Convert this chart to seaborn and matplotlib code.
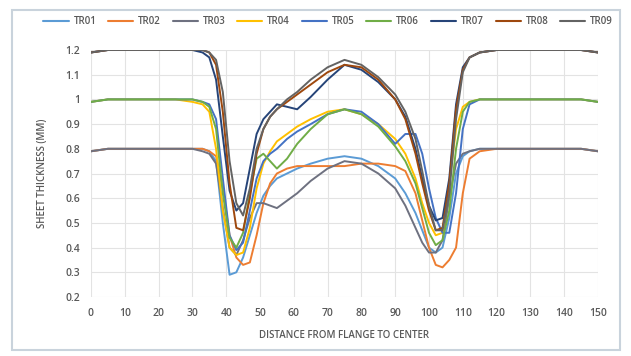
import numpy as np
import pandas as pd
import seaborn as sns
import matplotlib.pyplot as plt
from matplotlib.patches import Rectangle

# Measurement positions along the section (mm from flange)
distance = [0, 5, 10, 15, 20, 25, 30, 33, 35, 37, 39, 41, 43, 45, 47, 49, 51, 53, 55,
            58, 61, 65, 70, 75, 80, 85, 90, 93, 96, 98, 100, 102, 104, 106, 108, 110,
            112, 115, 120, 125, 130, 135, 140, 145, 150]

# Sheet thickness (mm) for each trial
tr01 = [0.79, 0.80, 0.80, 0.80, 0.80, 0.80, 0.80, 0.80, 0.79, 0.75, 0.50, 0.29, 0.30, 0.36,
        0.45, 0.54, 0.61, 0.65, 0.68, 0.70, 0.72, 0.74, 0.76, 0.77, 0.76, 0.73, 0.68, 0.62,
        0.54, 0.47, 0.40, 0.38, 0.40, 0.52, 0.70, 0.77, 0.79, 0.80, 0.80, 0.80, 0.80, 0.80,
        0.80, 0.80, 0.79]
tr02 = [0.79, 0.80, 0.80, 0.80, 0.80, 0.80, 0.80, 0.80, 0.79, 0.77, 0.64, 0.45, 0.36, 0.33,
        0.34, 0.45, 0.58, 0.66, 0.70, 0.72, 0.73, 0.73, 0.73, 0.73, 0.74, 0.74, 0.73, 0.71,
        0.62, 0.51, 0.40, 0.33, 0.32, 0.35, 0.40, 0.62, 0.76, 0.79, 0.80, 0.80, 0.80, 0.80,
        0.80, 0.80, 0.79]
tr03 = [0.79, 0.80, 0.80, 0.80, 0.80, 0.80, 0.80, 0.79, 0.78, 0.74, 0.56, 0.40, 0.37, 0.43,
        0.52, 0.58, 0.58, 0.57, 0.56, 0.59, 0.62, 0.67, 0.72, 0.75, 0.74, 0.70, 0.64, 0.57,
        0.48, 0.42, 0.38, 0.38, 0.43, 0.60, 0.74, 0.78, 0.79, 0.80, 0.80, 0.80, 0.80, 0.80,
        0.80, 0.80, 0.79]
tr04 = [0.99, 1.00, 1.00, 1.00, 1.00, 1.00, 0.99, 0.98, 0.95, 0.80, 0.55, 0.40, 0.37, 0.38,
        0.48, 0.64, 0.74, 0.79, 0.83, 0.86, 0.89, 0.92, 0.95, 0.96, 0.94, 0.90, 0.84, 0.78,
        0.68, 0.58, 0.50, 0.45, 0.46, 0.66, 0.88, 0.97, 0.99, 1.00, 1.00, 1.00, 1.00, 1.00,
        1.00, 1.00, 0.99]
tr05 = [0.99, 1.00, 1.00, 1.00, 1.00, 1.00, 1.00, 0.99, 0.98, 0.92, 0.68, 0.45, 0.39, 0.42,
        0.55, 0.68, 0.75, 0.78, 0.80, 0.84, 0.87, 0.90, 0.94, 0.96, 0.95, 0.90, 0.82, 0.86,
        0.86, 0.78, 0.64, 0.52, 0.46, 0.46, 0.62, 0.88, 0.98, 1.00, 1.00, 1.00, 1.00, 1.00,
        1.00, 1.00, 0.99]
tr06 = [0.99, 1.00, 1.00, 1.00, 1.00, 1.00, 1.00, 0.99, 0.97, 0.88, 0.62, 0.44, 0.40, 0.46,
        0.62, 0.76, 0.78, 0.75, 0.72, 0.76, 0.82, 0.88, 0.94, 0.96, 0.94, 0.89, 0.81, 0.75,
        0.66, 0.56, 0.46, 0.41, 0.43, 0.55, 0.80, 0.95, 0.99, 1.00, 1.00, 1.00, 1.00, 1.00,
        1.00, 1.00, 0.99]
tr07 = [1.19, 1.20, 1.20, 1.20, 1.20, 1.20, 1.20, 1.19, 1.17, 1.08, 0.85, 0.63, 0.55, 0.58,
        0.72, 0.86, 0.92, 0.95, 0.98, 0.97, 0.96, 1.01, 1.08, 1.14, 1.12, 1.07, 1.00, 0.93,
        0.80, 0.68, 0.57, 0.51, 0.52, 0.68, 0.98, 1.13, 1.17, 1.19, 1.20, 1.20, 1.20, 1.20,
        1.20, 1.20, 1.19]
tr08 = [1.19, 1.20, 1.20, 1.20, 1.20, 1.20, 1.20, 1.20, 1.19, 1.14, 0.95, 0.66, 0.48, 0.47,
        0.60, 0.78, 0.88, 0.93, 0.96, 0.99, 1.02, 1.06, 1.11, 1.14, 1.13, 1.08, 1.00, 0.92,
        0.78, 0.66, 0.55, 0.47, 0.48, 0.66, 0.96, 1.12, 1.17, 1.19, 1.20, 1.20, 1.20, 1.20,
        1.20, 1.20, 1.19]
tr09 = [1.19, 1.20, 1.20, 1.20, 1.20, 1.20, 1.20, 1.20, 1.19, 1.16, 1.03, 0.75, 0.58, 0.53,
        0.64, 0.80, 0.88, 0.93, 0.96, 1.00, 1.03, 1.08, 1.13, 1.16, 1.14, 1.09, 1.02, 0.95,
        0.84, 0.71, 0.57, 0.47, 0.47, 0.62, 0.92, 1.11, 1.17, 1.19, 1.20, 1.20, 1.20, 1.20,
        1.20, 1.20, 1.19]

series_names = ["TR01", "TR02", "TR03", "TR04", "TR05", "TR06", "TR07", "TR08", "TR09"]
series_values = [tr01, tr02, tr03, tr04, tr05, tr06, tr07, tr08, tr09]
series_colors = ["#5B9BD5", "#ED7D31", "#6E7180", "#FFC000", "#4472C4", "#70AD47",
                 "#264478", "#9E480E", "#636363"]

x_ticks = list(range(0, 151, 10))
y_ticks = [0.2, 0.3, 0.4, 0.5, 0.6, 0.7, 0.8, 0.9, 1.0, 1.1, 1.2]
y_tick_labels = ["0.2", "0.3", "0.4", "0.5", "0.6", "0.7", "0.8", "0.9", "1", "1.1", "1.2"]

frames = [pd.DataFrame({"distance": distance, "thickness": vals, "trial": name})
          for name, vals in zip(series_names, series_values)]
df = pd.concat(frames, ignore_index=True)

sns.set_theme(style="white")
plt.rcParams["font.family"] = ["Open Sans", "DejaVu Sans"]

fig = plt.figure(figsize=(6.31, 3.56), dpi=100)
fig.patch.set_facecolor("white")

# Chart frame
fig.patches.append(Rectangle((12 / 631, 1 - 350 / 356), 608 / 631, 340 / 356,
                             transform=fig.transFigure, fill=False,
                             edgecolor="#C9D3DC", linewidth=1.5))

ax = fig.add_axes([91 / 631, 1 - 297 / 356, 507 / 631, 247 / 356])
sns.lineplot(data=df, x="distance", y="thickness", hue="trial",
             palette=dict(zip(series_names, series_colors)),
             linewidth=1.4, ax=ax, legend=False)
for line in ax.get_lines():
    line.set_solid_joinstyle("round")

ax.set_xlim(0, 150)
ax.set_ylim(0.2, 1.2)
ax.set_xticks(x_ticks)
ax.set_xticklabels([str(t) for t in x_ticks])
ax.set_yticks(y_ticks)
ax.set_yticklabels(y_tick_labels)
ax.grid(True, color="#E3E3E3", linewidth=0.8)
ax.set_axisbelow(True)
for s in ax.spines.values():
    s.set_visible(False)
ax.tick_params(axis="both", length=0, labelsize=7.5, labelcolor="#595959", pad=8)
for lbl in ax.get_xticklabels() + ax.get_yticklabels():
    lbl.set_fontweight("semibold")

ax.set_xlabel("DISTANCE FROM FLANGE TO CENTER", fontsize=7, color="#595959",
              fontweight="semibold", labelpad=8)
ax.set_ylabel("SHEET THICKNESS (MM)", fontsize=7, color="#595959",
              fontweight="semibold", labelpad=12)

handles = [plt.Line2D([0], [0], color=c, lw=1.5) for c in series_colors]
fig.legend(handles, series_names, loc="center", bbox_to_anchor=(0.52, 1 - 22 / 356),
           ncol=9, frameon=False, handlelength=2.6, columnspacing=1.2,
           handletextpad=0.5, labelcolor="#595959", prop={"weight": "semibold", "size": 7})

fig.savefig("out.png", dpi=100, facecolor="white")
